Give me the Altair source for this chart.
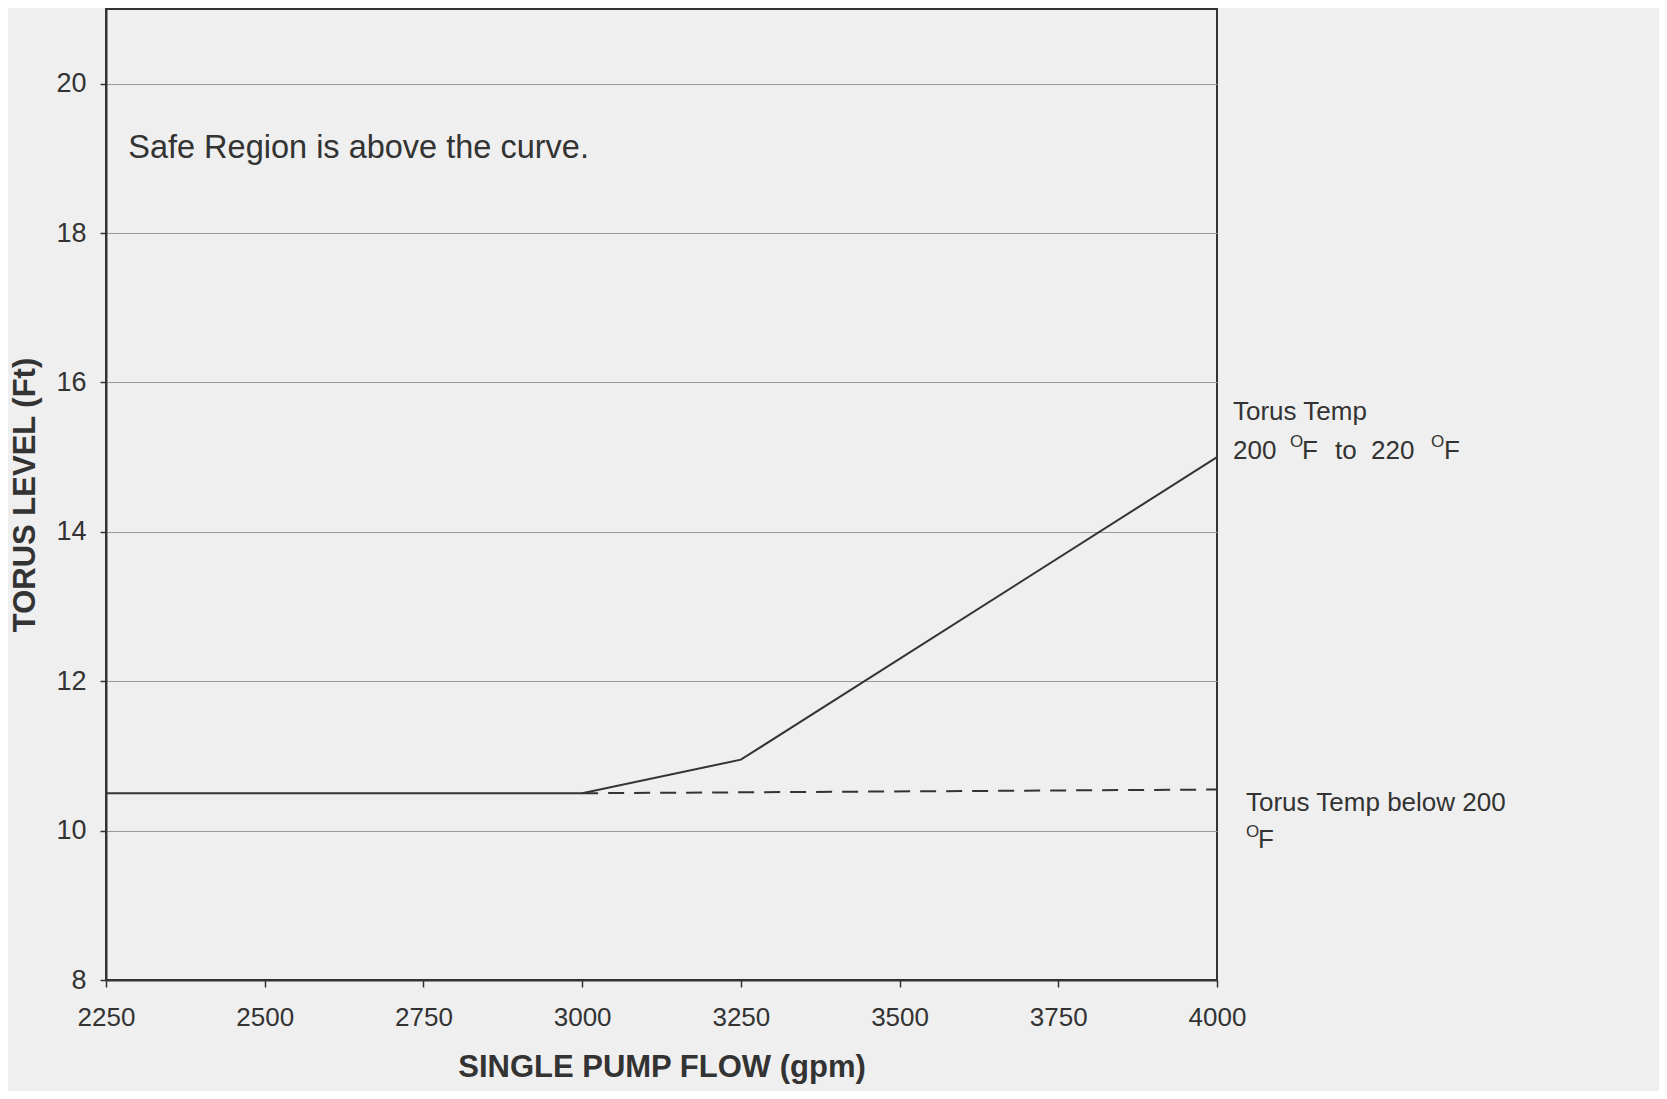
import altair as alt
import pandas as pd

# ---- data ----
flow_solid = [2250, 3000, 3250, 4000]
level_solid = [10.5, 10.5, 10.95, 15.0]
flow_dashed = [3000, 4000]
level_dashed = [10.5, 10.55]
x_ticks = [2250, 2500, 2750, 3000, 3250, 3500, 3750, 4000]
y_ticks = [8, 10, 12, 14, 16, 18, 20]

note_text = ["Safe Region is above the curve."]
note_flow = [2285]
note_level = [19.14]

# right-side annotation pieces: text, y level, pixel offset from right edge, size, raise
ann_text = ["Torus Temp", "200", "O", "F", "to", "220", "O", "F",
            "Torus Temp below 200", "O", "F"]
ann_level = [15.6, 15.08, 15.08, 15.08, 15.08, 15.08, 15.08, 15.08,
             10.37, 9.87, 9.87]
ann_dx = [16, 16, 73, 85, 118, 154, 214, 227, 29, 29, 41]
ann_size = [26, 26, 17, 26, 26, 26, 17, 26, 26, 17, 26]
ann_raise = [0, 0, -9, 0, 0, 0, -9, 0, 0, -8, 0]

INK = "#333333"
FONT = "Liberation Sans"

solid_df = pd.DataFrame({"flow": flow_solid, "level": level_solid})
dashed_df = pd.DataFrame({"flow": flow_dashed, "level": level_dashed})
note_df = pd.DataFrame({"flow": note_flow, "level": note_level, "t": note_text})

x_scale = alt.Scale(domain=[2250, 4000], nice=False, zero=False)
y_scale = alt.Scale(domain=[8, 21], nice=False, zero=False)

x_enc = alt.X("flow:Q", scale=x_scale,
              axis=alt.Axis(values=x_ticks, title="SINGLE PUMP FLOW (gpm)", grid=False,
                            format="d", labelFontSize=26, labelPadding=17, tickSize=7,
                            titleFontSize=31, titleFontWeight="bold", titlePadding=22,
                            labelFont=FONT, titleFont=FONT, labelColor=INK, titleColor=INK,
                            domainColor=INK, domainWidth=2, tickColor=INK, tickWidth=1.5,
                            labelFlush=False))
y_enc = alt.Y("level:Q", scale=y_scale,
              axis=alt.Axis(values=y_ticks, title="TORUS LEVEL (Ft)", grid=True,
                            format="d", gridColor="#9a9a9a", gridWidth=1,
                            labelFontSize=27, labelPadding=14, tickSize=6,
                            titleFontSize=31, titleFontWeight="bold", titlePadding=14,
                            labelFont=FONT, titleFont=FONT, labelColor=INK, titleColor=INK,
                            domainColor=INK, domainWidth=2, tickColor=INK, tickWidth=1.5))

solid = alt.Chart(solid_df).mark_line(color=INK, strokeWidth=2).encode(x=x_enc, y=y_enc)
dashed = alt.Chart(dashed_df).mark_line(color=INK, strokeWidth=2, strokeDash=[16, 10]).encode(
    x="flow:Q", y="level:Q")
note = alt.Chart(note_df).mark_text(align="left", baseline="middle", fontSize=32.5,
                                    font=FONT, color=INK).encode(
    x="flow:Q", y="level:Q", text="t:N")

layers = [solid, dashed, note]
for t, lv, dx, sz, rz in zip(ann_text, ann_level, ann_dx, ann_size, ann_raise):
    df = pd.DataFrame({"flow": [4000], "level": [lv], "t": [t]})
    layers.append(
        alt.Chart(df).mark_text(align="left", baseline="middle", fontSize=sz, font=FONT,
                                color=INK, dx=dx, dy=rz).encode(
            x="flow:Q", y="level:Q", text="t:N"))

chart = alt.layer(*layers).properties(
    width=1111, height=971,
    autosize=alt.AutoSizeParams(type="none"),
    padding={"left": 98, "top": 1, "right": 442, "bottom": 111},
    background="#efefef",
).configure_view(stroke=INK, strokeWidth=2)

chart.save("out.html", embed_options={"renderer": "svg", "actions": False})
